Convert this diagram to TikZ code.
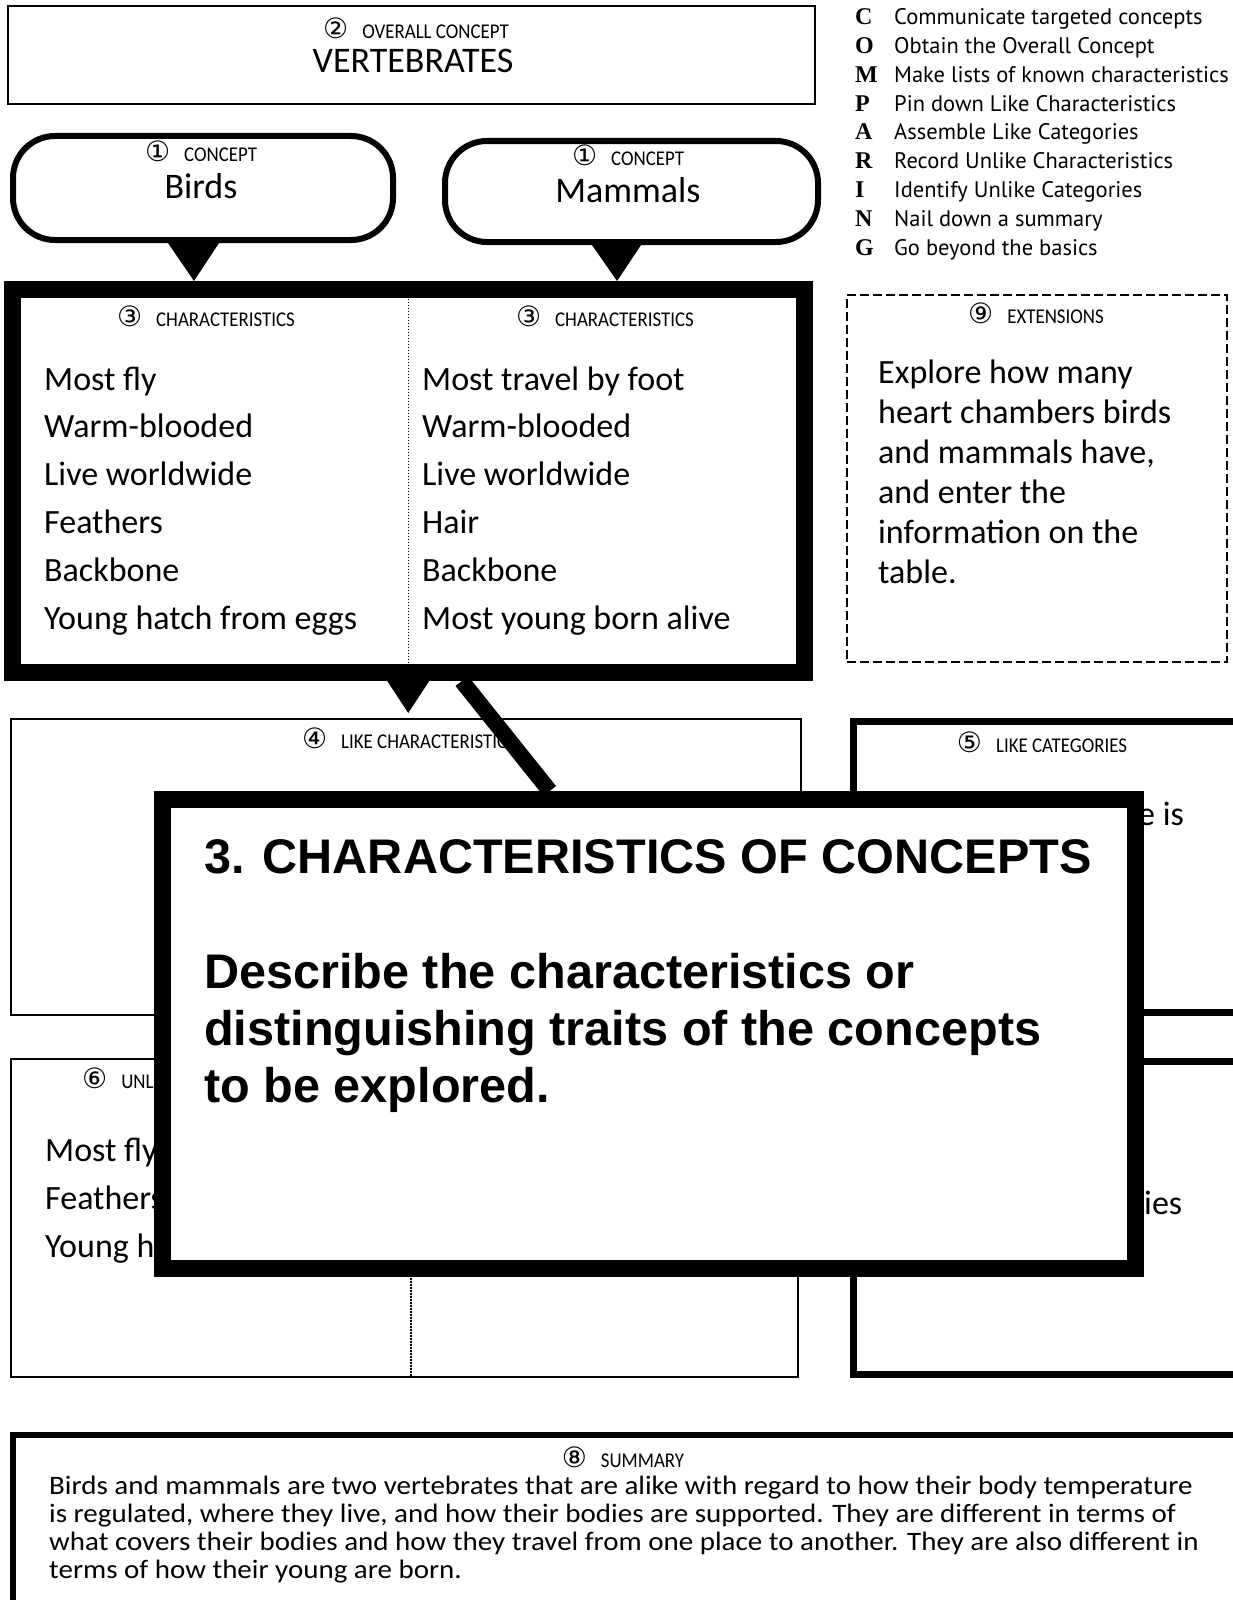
\documentclass[tikz,border=0pt]{standalone}
\usepackage{fontspec}
\usepackage{graphicx}
\usetikzlibrary{fit,calc}
\setmainfont{Carlito}
\newfontfamily\handfont{Carlito}
\newfontfamily\widehandfont[FakeStretch=1.09]{Carlito}
\newfontfamily\capsfont[FakeStretch=0.9]{Carlito}
\newfontfamily\circfont{DejaVu Sans}
\newfontfamily\listfont{PT Sans}
\newfontfamily\keyfont{Liberation Serif}
\newfontfamily\popfont{Liberation Sans}

% circled step number followed by the box caption
\newcommand\boxtag[2]{{\circfont\fontsize{28}{28}\selectfont #1}\hspace{14pt}{\capsfont\fontsize{21}{24}\selectfont #2}}

\tikzset{
  thinbox/.style={draw, line width=2pt, fill=white, inner sep=0pt},
  heavybox/.style={draw, line width=7pt, fill=white, inner sep=0pt},
  framebox/.style={draw, line width=17pt, fill=white, inner sep=0pt},
  balloon/.style={draw, line width=6pt, fill=white, rounded corners=42pt, inner sep=0pt},
  dashbox/.style={draw, line width=2.5pt, dash pattern=on 9pt off 4pt, inner sep=0pt},
  divider/.style={line width=1.4pt, dash pattern=on 1.6pt off 1.4pt},
  tagtext/.style={inner sep=0pt, anchor=center},
  hand/.style={font=\handfont\fontsize{34}{40}\selectfont, inner sep=0pt, anchor=base west},
  handc/.style={font=\handfont\fontsize{36}{40}\selectfont, inner sep=0pt},
  small/.style={font=\widehandfont\fontsize{26.6}{30}\selectfont, inner sep=0pt, anchor=base west},
  key/.style={font=\keyfont\bfseries\fontsize{24}{28}\selectfont, inner sep=0pt, anchor=base west},
  keytext/.style={font=\listfont\fontsize{22.5}{28}\selectfont, inner sep=0pt, anchor=base west},
  popline/.style={font=\popfont\bfseries\fontsize{48.6}{56}\selectfont, inner sep=0pt, anchor=base west},
  pointer/.style={fill=black},
  callout/.style={line width=16pt},
}

\begin{document}
\begin{tikzpicture}[x=1pt, y=-1pt]
\useasboundingbox (0,0) rectangle (1233,1600);
\clip (0,0) rectangle (1233,1600);
\fill[white] (0,0) rectangle (1233,1600);

% ---- overall concept ----
\node[thinbox, fit={(8,6) (815,104)}] (overall) {};
\node[tagtext] (overall-tag) at (416,28) {\boxtag{②}{OVERALL CONCEPT}};
\node[handc] (overall-name) at (413,61) {VERTEBRATES};

% ---- COMPARING key ----
\foreach \l/\t [count=\i from 0] in {
  C/Communicate targeted concepts,
  O/Obtain the Overall Concept,
  M/Make lists of known characteristics,
  P/Pin down Like Characteristics,
  A/Assemble Like Categories,
  R/Record Unlike Characteristics,
  I/Identify Unlike Categories,
  N/Nail down a summary,
  G/Go beyond the basics}{
  \node[key] (key-\i) at (855,{24.5+28.84*\i}) {\l};
  \node[keytext] (keyline-\i) at (894,{24.5+28.84*\i}) {\t};
}

% ---- the two concepts ----
\node[balloon, fit={(13,136) (393,240)}] (birds) {};
\node[tagtext] (birds-tag) at (201,151) {\boxtag{①}{CONCEPT}};
\node[handc] (birds-name) at (201,186) {Birds};

\node[balloon, fit={(445,141) (818,242)}] (mammals) {};
\node[tagtext] (mammals-tag) at (628,155) {\boxtag{①}{CONCEPT}};
\node[handc] (mammals-name) at (628,190) {Mammals};

% ---- characteristics ----
\node[framebox, fit={(12.5,289.5) (804,672.5)}] (chars) {};
\fill[pointer] ([xshift=-35pt]birds.south) -- ([xshift=16pt]birds.south)
  -- ([xshift=-9pt]birds.south |- chars.north) -- cycle;
\fill[pointer] ([xshift=-39.5pt]mammals.south) -- ([xshift=9.5pt]mammals.south)
  -- ([xshift=-14.5pt]mammals.south |- chars.north) -- cycle;
\draw[divider] ([yshift=-8.5pt]chars.north) -- ([yshift=8.5pt]chars.south);
\node[tagtext] (chars-tag-l) at (206,316) {\boxtag{③}{CHARACTERISTICS}};
\node[tagtext] (chars-tag-r) at (605,316) {\boxtag{③}{CHARACTERISTICS}};
\foreach \t [count=\i from 0] in {Most fly, Warm-blooded, Live worldwide,
  Feathers, Backbone, Young hatch from eggs}
  \node[hand] (birds-trait-\i) at (44,{390+47.8*\i}) {\t};
\foreach \t [count=\i from 0] in {Most travel by foot, Warm-blooded,
  Live worldwide, Hair, Backbone, Most young born alive}
  \node[hand] (mammals-trait-\i) at (422,{390+47.8*\i}) {\t};

% ---- extensions ----
\node[dashbox, fit={(847,295) (1227,662)}] (ext) {};
\node[tagtext] (ext-tag) at (1036,313) {\boxtag{⑨}{EXTENSIONS}};
\foreach \t [count=\i from 0] in {Explore how many, heart chambers birds,
  {and mammals have,}, and enter the, information on the, table.}
  \node[hand] (ext-line-\i) at (878,{383+40*\i}) {\t};

% ---- like characteristics / like categories ----
\node[thinbox, fit={(11,719) (801,1015)}] (like) {};
\node[tagtext] (like-tag) at (409,738) {\boxtag{④}{LIKE CHARACTERISTICS}};
\node[heavybox, fit={(853.5,721.5) (1245,1012.5)}] (likecat) {};
\node[tagtext] (likecat-tag) at (1042,742) {\boxtag{⑤}{LIKE CATEGORIES}};
\node[hand] (likecat-text) at (1138,825) {e is};

% ---- unlike characteristics / unlike categories ----
\node[thinbox, fit={(11,1059) (798,1377)}] (unlike) {};
\draw[divider] ([xshift=6.5pt,yshift=-1pt]unlike.north) -- ([xshift=6.5pt,yshift=1pt]unlike.south);
\node[inner sep=0pt, anchor=west] (unlike-tag) at (82,1078) {\boxtag{⑥}{UNLIKE CHARACTERISTICS}};
\foreach \t [count=\i from 0] in {Most fly, Feathers, Young hatch from eggs}
  \node[hand] (unlike-trait-\i) at (45,{1161+48*\i}) {\t};
\node[heavybox, fit={(853.5,1061.5) (1245,1374.5)}] (unlikecat) {};
\node[tagtext] (unlikecat-tag) at (1042,1082) {\boxtag{⑦}{UNLIKE CATEGORIES}};
\node[hand] (unlikecat-text) at (1144,1214) {ies};

% ---- summary ----
\node[draw, line width=6pt, fill=white, inner sep=0pt, fit={(13,1435) (1245,1605)}] (summary) {};
\node[tagtext] (summary-tag) at (623,1457) {\boxtag{⑧}{SUMMARY}};
\foreach \t [count=\i from 0] in {
  Birds and mammals are two vertebrates that are alike with regard to how their body temperature,
  {is regulated, where they live, and how their bodies are supported. They are different in terms of},
  {what covers their bodies and how they travel from one place to another. They are also different in},
  terms of how their young are born.}
  \node[small] (summary-line-\i) at (49,{1494+28.3*\i}) {\t};

% ---- pointer to like characteristics and the call-out ----
\fill[pointer] ([xshift=-21pt]chars.south) -- ([xshift=21pt]chars.south)
  -- ([yshift=5pt]chars.south |- like.north) -- cycle;

\node[framebox, fit={(162.5,799.5) (1135,1268)}] (pop) {};
\draw[callout] ([xshift=53.5pt]chars.south) -- ([xshift=-99pt]pop.north);
\node[framebox, fit={(162.5,799.5) (1135,1268)}] (popcover) {};
\node[popline] (pop-title) at (204,873) {3. CHARACTERISTICS OF CONCEPTS};
\node[popline] (pop-line-0) at (204,988) {Describe the characteristics or};
\node[popline] (pop-line-1) at (204,1045) {distinguishing traits of the concepts};
\node[popline] (pop-line-2) at (204,1102) {to be explored.};
\end{tikzpicture}
\end{document}
